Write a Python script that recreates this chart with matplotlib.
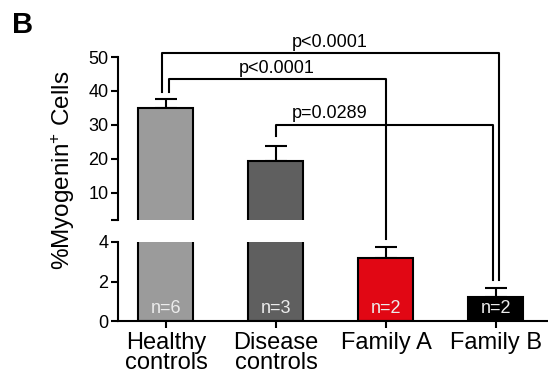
import matplotlib
matplotlib.use("Agg")
import matplotlib.pyplot as plt
from matplotlib.lines import Line2D

plt.rcParams["font.family"] = ["Liberation Sans", "DejaVu Sans"]
plt.rcParams["mathtext.fontset"] = "custom"
plt.rcParams["mathtext.rm"] = "Liberation Sans"
plt.rcParams["mathtext.it"] = "Liberation Sans"

# Dati
groups = ["Healthy\ncontrols", "Disease\ncontrols", "Family A", "Family B"]
means = [34.9, 19.4, 3.2, 1.22]
errors = [2.6, 4.5, 0.55, 0.45]
n_labels = ["n=6", "n=3", "n=2", "n=2"]
bar_colors = ["#9b9b9b", "#5f5f5f", "#e10714", "#000000"]

# Parentesi di significativita'
bracket_left_x = [-0.04, 0.03, 1.0]
bracket_left_end = [39.6, 39.6, 26.6]    # asse superiore
bracket_right_x = [3.03, 2.0, 2.97]
bracket_right_end = [2.08, 4.15, 2.08]   # asse inferiore
bracket_height = [51.2, 43.5, 30.1]      # asse superiore
p_labels = ["p<0.0001", "p<0.0001", "p=0.0289"]
p_label_x = [1.49, 1.01, 1.49]

BREAK = 4  # valore di interruzione dell'asse

fig = plt.figure(figsize=(5.48, 3.85), dpi=100)
fig.patch.set_facecolor("white")

left, right = 118 / 548, 547 / 548
ax_top = fig.add_axes([left, 1 - 220 / 385, right - left, 163 / 385])
ax_bot = fig.add_axes([left, 1 - 321 / 385, right - left, 79 / 385])

x = list(range(len(groups)))
for ax in (ax_top, ax_bot):
    if ax is ax_top:
        idx = [i for i in x if means[i] > BREAK]
    else:
        idx = x
    ax.bar([x[i] for i in idx], [means[i] for i in idx], width=0.5,
           color=[bar_colors[i] for i in idx], edgecolor="black",
           linewidth=1.5, zorder=2)
    ax.errorbar([x[i] for i in idx], [means[i] for i in idx],
                yerr=[[0] * len(idx), [errors[i] for i in idx]], fmt="none",
                ecolor="black", elinewidth=1.5, capsize=8, capthick=1.5,
                zorder=1)
    ax.set_xlim(-0.436, 3.464)
    for s in ("top", "right"):
        ax.spines[s].set_visible(False)
    ax.spines["left"].set_linewidth(1.5)
    ax.tick_params(axis="y", length=5, width=1.5, labelsize=13, pad=2)

ax_top.set_ylim(2, 50)
ax_top.set_yticks([2, 10, 20, 30, 40, 50])
ax_top.set_yticklabels(["", "10", "20", "30", "40", "50"])
ax_top.spines["bottom"].set_visible(False)
ax_top.set_xticks([])

ax_bot.set_ylim(0, BREAK)
ax_bot.set_yticks([0, 2, 4])
ax_bot.spines["bottom"].set_linewidth(1.5)
ax_bot.set_xticks(x)
ax_bot.set_xticklabels(groups, fontsize=17, linespacing=0.85)
ax_bot.tick_params(axis="x", length=5, width=1.5, pad=3)

for xi, lab in zip(x, n_labels):
    ax_bot.text(xi, 0.65, lab, ha="center", va="center", fontsize=13,
                color="#ececec", zorder=3)

to_fig = fig.transFigure.inverted()


def fig_point(ax, px, py):
    return to_fig.transform(ax.transData.transform((px, py)))


for i in range(len(p_labels)):
    pts = [fig_point(ax_top, bracket_left_x[i], bracket_left_end[i]),
           fig_point(ax_top, bracket_left_x[i], bracket_height[i]),
           fig_point(ax_top, bracket_right_x[i], bracket_height[i]),
           fig_point(ax_bot, bracket_right_x[i], bracket_right_end[i])]
    fig.add_artist(Line2D([p[0] for p in pts], [p[1] for p in pts],
                          color="black", linewidth=1.5,
                          transform=fig.transFigure))
    ax_top.annotate(p_labels[i], (p_label_x[i], bracket_height[i]),
                    xytext=(0, 1.5), textcoords="offset points",
                    ha="center", va="bottom", fontsize=13,
                    annotation_clip=False)

fig.text(63 / 548, 1 - 170 / 385, r"%Myogenin$^{+}$ Cells", rotation=90,
         ha="center", va="center", fontsize=17.5)
fig.text(12 / 548, 1 - 11 / 385, "B", ha="left", va="top", fontsize=21,
         fontweight="bold")

fig.savefig("out.png", dpi=100, facecolor=fig.get_facecolor())
